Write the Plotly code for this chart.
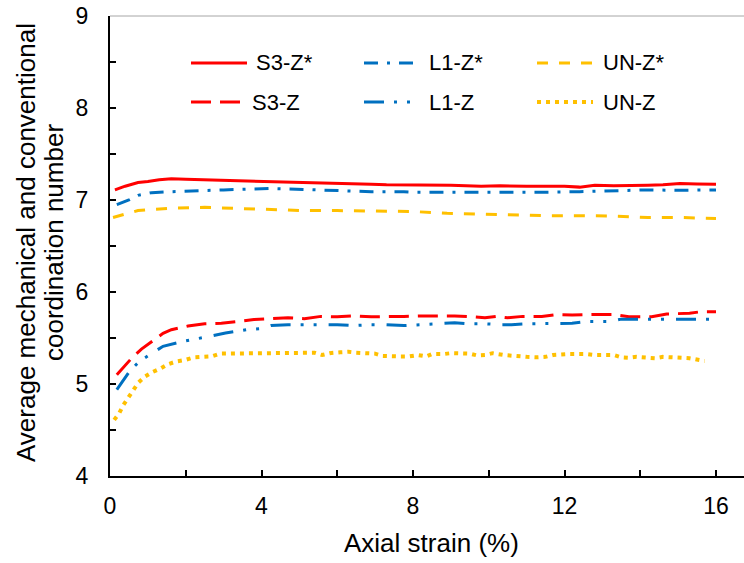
import plotly.graph_objects as go

# ---- data ----
s3zs_x = [0.13, 0.4, 0.74, 1.0, 1.3, 1.62, 2.0, 2.5, 3.0, 3.4, 3.8, 4.25, 4.7, 5.13, 5.5, 6.0, 6.4, 6.9, 7.3, 7.76,
          8.0, 8.5, 9.0, 9.8, 10.3, 11.0, 11.5, 12.0, 12.4, 12.8, 13.3, 13.7, 14.2, 14.6, 15.05, 15.5, 16.0]
s3zs_y = [7.11, 7.15, 7.19, 7.20, 7.22, 7.23, 7.225, 7.22, 7.21, 7.205, 7.205, 7.20, 7.20, 7.195, 7.19, 7.18, 7.175, 7.17, 7.165, 7.165,
          7.165, 7.16, 7.16, 7.15, 7.155, 7.15, 7.15, 7.15, 7.14, 7.16, 7.155, 7.155, 7.16, 7.165, 7.18, 7.175, 7.17]

l1zs_x = [0.18, 0.5, 0.74, 1.1, 1.6, 2.1, 2.5, 3.0, 3.4, 4.25, 5.1, 6.0, 6.9, 7.76, 8.0, 8.9, 9.8, 10.6, 11.5, 12.4,
          13.3, 14.2, 15.0, 16.0]
l1zs_y = [6.95, 7.0, 7.05, 7.08, 7.09, 7.10, 7.10, 7.11, 7.115, 7.125, 7.115, 7.10, 7.09, 7.09, 7.085, 7.085, 7.085, 7.08, 7.085, 7.09,
          7.10, 7.11, 7.105, 7.11]

unzs_x = [0.08, 0.4, 0.74, 1.2, 1.6, 2.5, 3.4, 4.25, 5.1, 6.0, 6.9, 7.76, 8.0, 8.9, 9.8, 10.6, 11.5, 12.4, 13.3, 14.2,
          15.0, 16.0]
unzs_y = [6.81, 6.85, 6.885, 6.90, 6.91, 6.92, 6.91, 6.90, 6.885, 6.885, 6.88, 6.875, 6.875, 6.855, 6.845, 6.84, 6.83, 6.83, 6.825, 6.81,
          6.81, 6.80]

s3z_x = [0.18, 0.4, 0.57, 0.83, 1.18, 1.4, 1.62, 2.06, 2.5, 2.94, 3.4, 3.8, 4.25, 4.7, 5.13, 5.57, 6.0, 6.45, 6.9, 7.3,
         7.76, 8.2, 8.7, 9.1, 9.6, 9.9, 10.2, 10.5, 10.9, 11.4, 11.8, 12.2, 12.8, 13.3, 13.7, 14.3, 14.7, 15.3, 15.6, 16.0]
s3z_y = [5.10, 5.20, 5.28, 5.38, 5.49, 5.55, 5.59, 5.63, 5.655, 5.66, 5.68, 5.70, 5.71, 5.72, 5.71, 5.735, 5.73, 5.74, 5.73, 5.73,
         5.735, 5.74, 5.74, 5.74, 5.73, 5.72, 5.735, 5.72, 5.735, 5.735, 5.755, 5.75, 5.755, 5.755, 5.73, 5.73, 5.76, 5.77, 5.785, 5.785]

l1z_x = [0.18, 0.35, 0.53, 0.79, 1.1, 1.4, 1.89, 2.3, 2.66, 3.05, 3.6, 3.95, 4.25, 4.7, 5.13, 5.57, 6.0, 6.45, 6.9, 7.3,
         7.76, 8.2, 8.7, 9.1, 9.4, 9.9, 10.3, 10.6, 11.0, 11.5, 11.9, 12.2, 12.6, 13.2, 13.5, 14.2, 14.9, 15.3, 16.0]
l1z_y = [4.94, 5.04, 5.145, 5.25, 5.33, 5.41, 5.46, 5.49, 5.52, 5.555, 5.59, 5.60, 5.635, 5.645, 5.645, 5.645, 5.645, 5.635, 5.645, 5.645,
         5.635, 5.645, 5.66, 5.665, 5.655, 5.655, 5.645, 5.645, 5.655, 5.655, 5.66, 5.66, 5.68, 5.68, 5.705, 5.705, 5.705, 5.705, 5.705]

unz_x = [0.11, 0.24, 0.35, 0.48, 0.61, 0.75, 0.92, 1.12, 1.34, 1.53, 1.75, 1.97, 2.22, 2.45, 2.68, 2.9, 3.1, 3.36, 3.6, 3.8,
         4.06, 4.3, 4.5, 4.75, 5.18, 5.4, 5.6, 5.8, 6.08, 6.3, 6.5, 6.75, 7.0, 7.2, 7.4, 7.6, 7.9, 8.13, 8.35, 8.5,
         8.8, 9.0, 9.5, 9.7, 9.9, 10.1, 10.4, 10.6, 10.8, 11.0, 11.3, 11.5, 11.7, 12.1, 12.6, 12.8, 13.3, 13.5, 13.7, 13.9,
         14.2, 14.4, 14.6, 14.8, 15.0, 15.3, 15.7]
unz_y = [4.61, 4.68, 4.77, 4.85, 4.935, 5.015, 5.08, 5.13, 5.17, 5.215, 5.245, 5.26, 5.29, 5.29, 5.30, 5.33, 5.33, 5.34, 5.335, 5.34,
         5.33, 5.34, 5.33, 5.33, 5.335, 5.34, 5.315, 5.335, 5.345, 5.35, 5.34, 5.33, 5.33, 5.305, 5.30, 5.30, 5.30, 5.315, 5.30, 5.325,
         5.325, 5.335, 5.33, 5.31, 5.315, 5.335, 5.315, 5.305, 5.30, 5.295, 5.29, 5.295, 5.315, 5.325, 5.325, 5.315, 5.315, 5.29, 5.285, 5.295,
         5.285, 5.28, 5.295, 5.29, 5.28, 5.28, 5.25]

x_ticks = [0, 4, 8, 12, 16]
y_ticks = [4, 5, 6, 7, 8, 9]
x_title = "Axial strain (%)"
y_title_lines = ["Average mechanical and conventional", "coordination number"]

RED = "#FF0000"
BLUE = "#0070C0"
ORANGE = "#FFC000"

series = [
    ("S3-Z*", s3zs_x, s3zs_y, RED, "solid", 3),
    ("L1-Z*", l1zs_x, l1zs_y, BLUE, "14px,9px,3px,9px", 3),
    ("UN-Z*", unzs_x, unzs_y, ORANGE, "11px,11px", 3),
    ("S3-Z", s3z_x, s3z_y, RED, "20px,9px", 3),
    ("L1-Z", l1z_x, l1z_y, BLUE, "20px,10px,3px,10px,3px,12px", 3),
    ("UN-Z", unz_x, unz_y, ORANGE, "4px,5px", 4),
]

FONT = "Liberation Sans, Arial, sans-serif"
W, H = 744, 563
ML, MR, MT, MB = 110, 0, 16, 87
PW, PH = W - ML - MR, H - MT - MB
X_MAX = 16 + (W - 716) / ((716 - 110) / 16)   # axis runs to the picture's right edge

fig = go.Figure()
for name, xs, ys, col, dash, w in series:
    fig.add_trace(go.Scatter(x=xs, y=ys, mode="lines", name=name, showlegend=False,
                             line=dict(color=col, width=w, dash=dash)))

def px2paper(px, py):
    return (px - ML) / PW, (H - MB - py) / PH

# thin grey plot-area border along the top
shapes = [dict(type="line", xref="paper", yref="paper", x0=0, x1=1, y0=1, y1=1,
               line=dict(color="#A6A6A6", width=1))]
annotations = []

# manual legend
legend_layout = [
    (0, 191, 247, 63, 254), (1, 364, 413, 63, 427), (2, 537, 593, 63, 601),
    (3, 191, 247, 102, 250), (4, 364, 413, 102, 427), (5, 537, 593, 102, 601),
]
for idx, x0, x1, yy, tx in legend_layout:
    name, xs, ys, col, dash, w = series[idx]
    a0, b0 = px2paper(x0, yy)
    a1, _ = px2paper(x1, yy)
    shapes.append(dict(type="line", xref="paper", yref="paper", x0=a0, x1=a1, y0=b0, y1=b0,
                       line=dict(color=col, width=w, dash=dash)))
    ta, tb = px2paper(tx, yy)
    annotations.append(dict(xref="paper", yref="paper", x=ta, y=tb, text=name, showarrow=False,
                            xanchor="left", yanchor="middle", font=dict(size=22, color="black", family=FONT)))

# axis titles as annotations (tight line spacing like the reference)
tx, ty = px2paper(432, 543)
annotations.append(dict(xref="paper", yref="paper", x=tx, y=ty, text=x_title, showarrow=False,
                        xanchor="center", yanchor="middle", font=dict(size=26, color="black", family=FONT)))
for line, cx in zip(y_title_lines, [26, 54]):
    ax_, ay_ = px2paper(cx, 243)
    annotations.append(dict(xref="paper", yref="paper", x=ax_, y=ay_, text=line, showarrow=False,
                            textangle=-90, xanchor="center", yanchor="middle",
                            font=dict(size=26, color="black", family=FONT)))

fig.update_layout(
    width=W, height=H,
    margin=dict(l=ML, r=MR, t=MT, b=MB, autoexpand=False),
    paper_bgcolor="white", plot_bgcolor="white",
    font=dict(family=FONT, size=23, color="black"),
    shapes=shapes, annotations=annotations,
    xaxis=dict(range=[0, X_MAX], tickvals=x_ticks, ticks="inside", ticklen=6, tickwidth=2, tickcolor="black",
               minor=dict(dtick=2, ticks="inside", ticklen=6, tickwidth=2, tickcolor="black"),
               showline=True, linecolor="black", linewidth=2, showgrid=False, zeroline=False,
               ticklabelstandoff=8, automargin=False, tickfont=dict(size=23)),
    yaxis=dict(range=[4, 9], tickvals=y_ticks, ticks="inside", ticklen=6, tickwidth=2, tickcolor="black",
               minor=dict(dtick=0.5, ticks="inside", ticklen=6, tickwidth=2, tickcolor="black"),
               showline=True, linecolor="black", linewidth=2, showgrid=False, zeroline=False,
               ticklabelstandoff=15, automargin=False, tickfont=dict(size=23)),
)

fig.write_html("out.html")
